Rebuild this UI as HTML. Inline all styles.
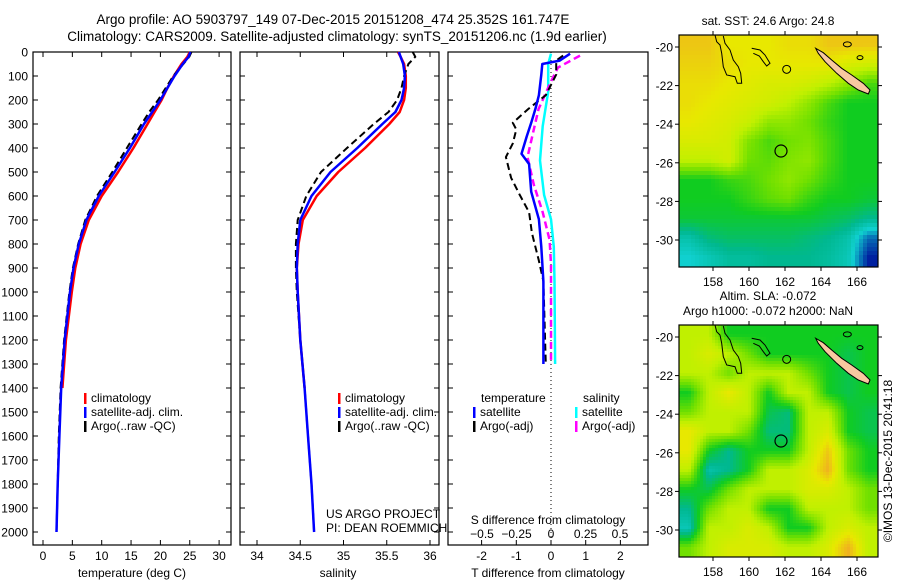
<!DOCTYPE html>
<html><head><meta charset="utf-8"><style>
body{margin:0;background:#fff}
svg{display:block;font-family:"Liberation Sans",sans-serif}
text{fill:#000}
</style></head><body>
<svg id="fig" width="900" height="580" viewBox="0 0 900 580" xmlns="http://www.w3.org/2000/svg">
<rect width="900" height="580" fill="#fff"/>
<text x="333" y="24" font-size="13.5" text-anchor="middle">Argo profile: AO 5903797_149 07-Dec-2015 20151208_474 25.352S 161.747E</text>
<text x="337" y="41" font-size="13.5" text-anchor="middle">Climatology: CARS2009. Satellite-adjusted climatology: synTS_20151206.nc (1.9d earlier)</text>
<g id="p1"></g>
<g id="p2"></g>
<g id="p3"></g>
<g id="m1"></g>
<g id="m2"></g>
<text transform="translate(892,461) rotate(-90)" font-size="12" text-anchor="middle">©IMOS 13-Dec-2015 20:41:18</text>
</svg>
<script>
// ---- profile data ----
const depthT = [0,20,50,100,150,200,250,300,400,500,600,700,800,900,1000,1200,1400,1600,1800,2000];
const tempClim = [25,24.6,23.6,22.3,21.2,20.2,19,17.8,15.4,12.8,10,7.8,6.4,5.5,4.9,3.9,3.3];
const tempSat  = [25.1,24.8,23.8,22.4,21.2,20.0,18.6,17.2,14.8,12.2,9.5,7.4,6.1,5.2,4.6,3.7,3.1,2.8,2.5,2.3];
const tempArgo = [25.3,24.9,23.9,22.2,20.9,19.6,18.1,16.8,14.3,11.8,9.2,7.2,6.0,5.1,4.5,3.6,3.0,2.7,2.5,2.3];
const salClim = [35.63,35.66,35.7,35.72,35.72,35.7,35.65,35.53,35.25,34.94,34.69,34.53,34.48,34.46,34.47,34.5,34.55];
const salSat  = [35.64,35.66,35.69,35.71,35.70,35.67,35.6,35.45,35.16,34.85,34.63,34.5,34.47,34.46,34.47,34.5,34.55,34.59,34.63,34.66];
const salArgo = [35.8,35.83,35.75,35.7,35.67,35.62,35.52,35.35,35.04,34.74,34.57,34.47,34.45,34.45,34.46,34.5,34.55,34.59,34.63,34.66];
// difference panel
const dDepthTS = [7,36,50,94,180,237,295,352,424,467,582,697,812,956,1300];
const dTSat    = [0.55,0.25,-0.25,-0.28,-0.35,-0.45,-0.57,-0.7,-0.85,-0.63,-0.57,-0.35,-0.28,-0.22,-0.22];
const dDepthTA = [15,36,94,180,237,295,323,381,438,524,596,668,754,870,956,1300];
const dTArgo   = [0.35,0.15,0.15,-0.15,-0.65,-1.1,-1.0,-1.1,-1.3,-1.15,-0.9,-0.63,-0.55,-0.35,-0.22,-0.15];
const dDepthSS = [7,50,166,309,452,596,697,812,956,1300];
const dSSat    = [0,-0.02,-0.02,-0.06,-0.08,-0.05,0,0.02,0.025,0.03];
const dDepthSA = [15,65,123,237,323,438,553,668,783,884,1300];
const dSArgo   = [0.21,0.05,0,-0.09,-0.125,-0.17,-0.125,-0.06,-0.01,0,0];
// map data (rows N->S, cols W->E)
const sstGrid = [
[3.8,3.8,3.5,3.5,3.5,3.6,3.6,3.8,3.8,3.8],
[3.7,3.7,3.6,3.5,3.5,3.5,3.5,3.5,3.3,3.2],
[3.6,3.6,3.5,3.4,3.3,3.3,3.2,3,2.7,2.3],
[3.6,3.5,3.4,3.3,3.2,3,2.7,2.3,2,2],
[3.5,3.4,3.3,3.1,2.7,2.7,2.5,2.2,2,2],
[3.3,3.3,3.2,2.6,2.3,2.5,2.6,2.3,2,2],
[3,3,3.2,2.5,2.4,2.6,2.7,2.3,2,2],
[2,2,2.2,2.3,2.5,2.7,2.5,2.2,2,2],
[2,2,2,2.2,2.4,2.5,2.2,2,2,1.9],
[1.9,1.9,1.9,1.9,1.9,1.9,1.9,1.8,1.7,1.5],
[1.3,1.6,1.7,1.7,1.7,1.7,1.6,1.5,1.3,0.6],
[1.0,1.2,1.4,1.4,1.5,1.5,1.5,1.4,1.2,0.3]];
const slaGrid = [
[3,3,2,2,2,2,2,2,2,2],
[3,3.3,3,2.5,2,2,2,2,1.8,2],
[3,3,2.5,3,3,3,2.5,2,1.8,2],
[2,3,3.5,3,2,3,3,2,1.8,2],
[2.5,3,3,3,1.8,1.6,3,3,2,1.8],
[3.5,3,3,2.5,1.6,1.6,3,3.3,2,1.8],
[3.5,2,1.5,2,2,2,3,3.8,2.5,2],
[3,1.3,1.5,2,3,3,3.3,4,2.5,2],
[2,1.8,2.5,3,3,3,3.3,3.3,3,2.5],
[1.5,2.5,3,3,2,2,3,3,3,2.5],
[1.2,3,3,3.3,3,2,2,3,3.3,3],
[2.5,3,3.3,3.3,3.3,3,3,3.3,4,3]];

const NS="http://www.w3.org/2000/svg";
function mk(parent,tag,attrs,txt){const e=document.createElementNS(NS,tag);for(const k in attrs)e.setAttribute(k,attrs[k]);if(txt!==undefined)e.textContent=txt;parent.appendChild(e);return e;}
const yD = d => 52 + d*0.24;

function frame(g,x0,x1,y0,y1,yLabels){
  const r=mk(g,'rect',{x:x0,y:y0,width:x1-x0,height:y1-y0,fill:'none',stroke:'#000','stroke-width':1.2});
  
  
  for(let d=0;d<=2000;d+=100){const y=yD(d);
    mk(g,'line',{x1:x0,x2:x0+5,y1:y,y2:y,stroke:'#000'});
    mk(g,'line',{x1:x1-5,x2:x1,y1:y,y2:y,stroke:'#000'});
    if(yLabels){const t=mk(g,'text',{x:x0-5,y:y+4.5,'font-size':12,'text-anchor':'end'},String(d));
      
      }
  }
}
function xticks(g,vals,fx,y0,y1,ly,fmt,bottomOnly){
  vals.forEach(v=>{const x=fx(v);
    mk(g,'line',{x1:x,x2:x,y1:y1-5,y2:y1,stroke:'#000'});
    if(!bottomOnly)mk(g,'line',{x1:x,x2:x,y1:y0,y2:y0+5,stroke:'#000'});
    const t=mk(g,'text',{x:x,y:ly,'font-size':12,'text-anchor':'middle'},fmt?fmt(v):String(v));
    
    
  });
}
function line(g,depths,vals,fx,color,w,dash,name){
  let d='';for(let i=0;i<vals.length;i++){d+=(i?'L':'M')+fx(vals[i]).toFixed(1)+','+yD(depths[i]).toFixed(1);}
  const p=mk(g,'path',{d:d,fill:'none',stroke:color,'stroke-width':w,'stroke-linejoin':'round'});
  if(dash)p.setAttribute('stroke-dasharray',dash);
  
  
}
function legend(g,x,y,items){items.forEach((it,i)=>{
  const r=mk(g,'rect',{x:x,y:y+i*14-9,width:2.5,height:11,fill:it[1]});
  
  
  const t=mk(g,'text',{x:x+7,y:y+i*14,'font-size':12},it[0]);
  
  
});}

// panel 1
const p1=document.getElementById('p1');
const fT=t=>43+t*5.87;
frame(p1,33,231,52,545,true);
xticks(p1,[0,5,10,15,20,25,30],fT,52,545,560);
mk(p1,'text',{x:132,y:577,'font-size':12,'text-anchor':'middle'},'temperature (deg C)');
line(p1,depthT,tempClim,fT,'#f00',2.5,null,'temp-climatology-line');
line(p1,depthT,tempArgo,fT,'#000',2,'7,4','temp-argo-line');
line(p1,depthT,tempSat,fT,'#00f',2.5,null,'temp-satellite-line');
legend(p1,84,402,[['climatology','#f00'],['satellite-adj. clim.','#00f'],['Argo(..raw -QC)','#000']]);

// panel 2
const p2=document.getElementById('p2');
const fS=s=>257+(s-34)*86.5;
frame(p2,240,439,52,545,false);
xticks(p2,[34,34.5,35,35.5,36],fS,52,545,560);
mk(p2,'text',{x:338,y:577,'font-size':12,'text-anchor':'middle'},'salinity');
line(p2,depthT,salClim,fS,'#f00',2.5,null,'sal-climatology-line');
line(p2,depthT,salArgo,fS,'#000',2,'7,4','sal-argo-line');
line(p2,depthT,salSat,fS,'#00f',2.5,null,'sal-satellite-line');
legend(p2,338,402,[['climatology','#f00'],['satellite-adj. clim.','#00f'],['Argo(..raw -QC)','#000']]);
mk(p2,'text',{x:326,y:518,'font-size':12},'US ARGO PROJECT');
mk(p2,'text',{x:326,y:532,'font-size':12},'PI: DEAN ROEMMICH');

// panel 3
const p3=document.getElementById('p3');
const fdT=t=>551+t*34.7, fdS=s=>551+s*138;
frame(p3,448,648,52,545,false);
mk(p3,'line',{x1:551,x2:551,y1:52,y2:545,stroke:'#000','stroke-dasharray':'1,3'});
xticks(p3,[-2,-1,0,1,2],fdT,52,545,560,null,true);
[-0.5,-0.25,0,0.25,0.5].forEach(v=>{const t=mk(p3,'text',{x:fdS(v),y:538,'font-size':12,'text-anchor':'middle'},String(v).replace('-','−'));
  
  });
mk(p3,'text',{x:548,y:524,'font-size':12,'text-anchor':'middle'},'S difference from climatology');
mk(p3,'text',{x:548,y:577,'font-size':12,'text-anchor':'middle'},'T difference from climatology');
line(p3,dDepthSS,dSSat,fdS,'#0ff',2.5,null,'s-diff-satellite-line');
line(p3,dDepthSA,dSArgo,fdS,'#f0f',2.5,'7,4','s-diff-argo-line');
line(p3,dDepthTA,dTArgo,fdT,'#000',2,'7,4','t-diff-argo-line');
line(p3,dDepthTS,dTSat,fdT,'#00f',2.5,null,'t-diff-satellite-line');
mk(p3,'text',{x:481,y:402,'font-size':12},'temperature');
mk(p3,'text',{x:583,y:402,'font-size':12},'salinity');
legend(p3,473,416,[['satellite','#00f'],['Argo(-adj)','#000']]);
legend(p3,575,416,[['satellite','#0ff'],['Argo(-adj)','#f0f']]);

// maps
const stops=[[0.3,[0,32,160]],[1,[16,208,208]],[1.5,[0,184,144]],[2,[16,204,32]],[2.5,[112,224,0]],[3,[192,240,0]],[3.5,[232,232,0]],[4,[240,176,32]]];
function col(v){if(v<=stops[0][0])return stops[0][1];for(let i=1;i<stops.length;i++){if(v<=stops[i][0]){const a=stops[i-1],b=stops[i],f=(v-a[0])/(b[0]-a[0]);return a[1].map((c,k)=>Math.round(c+(b[1][k]-c)*f));}}return stops[stops.length-1][1];}
function sample(grid,u,v){const R=grid.length,C=grid[0].length;const x=Math.min(Math.max(u*C-0.5,0),C-1),y=Math.min(Math.max(v*R-0.5,0),R-1);
  const i=Math.floor(y),j=Math.floor(x),i2=Math.min(i+1,R-1),j2=Math.min(j+1,C-1),fy=y-i,fx=x-j;
  return grid[i][j]*(1-fx)*(1-fy)+grid[i][j2]*fx*(1-fy)+grid[i2][j]*(1-fx)*fy+grid[i2][j2]*fx*fy;}
function map(id,grid,top,cell,title1,title2){
  const g=document.getElementById(id);const x0=679,x1=878,y0=top,y1=top+232;
  const bg=mk(g,'g',{});
  
  
  for(let y=y0;y<y1;y+=cell)for(let x=x0;x<x1;x+=cell){
    const c=col(sample(grid,(x-x0+cell/2)/(x1-x0),(y-y0+cell/2)/(y1-y0)));
    mk(bg,'rect',{x:x,y:y,width:Math.min(cell,x1-x)+0.3,height:Math.min(cell,y1-y)+0.3,fill:'rgb('+c.join(',')+')'});
  }
  const oy=top-35;
  const T=(pts)=>pts.map(p=>(650+p[0]/3).toFixed(1)+','+(30+p[1]/3+oy).toFixed(1)).join(' ');
  const nc=mk(g,'polygon',{points:T([[497,55],[520,68],[545,90],[575,115],[605,135],[640,160],[660,180],[655,192],[625,180],[595,160],[560,130],[525,95],[505,70]]),fill:'#f8c8a0',stroke:'#000','stroke-width':1});
  
  
  mk(g,'polyline',{points:T([[195,15],[200,35],[210,45],[215,70],[220,110],[230,135],[255,140],[262,160],[275,160],[272,130],[265,110],[250,90],[240,60],[225,40],[220,18]]),fill:'none',stroke:'#000','stroke-width':1});
  mk(g,'polyline',{points:T([[305,55],[330,60],[345,75],[360,100],[350,108],[340,95],[328,78],[310,70]]),fill:'none',stroke:'#000','stroke-width':1});
  mk(g,'ellipse',{cx:650+410/3,cy:30+118/3+oy,rx:4,ry:4,fill:'none',stroke:'#000'});
  mk(g,'ellipse',{cx:650+592/3,cy:30+43/3+oy,rx:4,ry:2.5,fill:'none',stroke:'#000'});
  mk(g,'ellipse',{cx:650+630/3,cy:30+83/3+oy,rx:3,ry:2,fill:'none',stroke:'#000'});
  const circ=mk(g,'circle',{cx:781,cy:151+oy,r:6,fill:'none',stroke:'#000','stroke-width':1.2});
  
  
  const fr=mk(g,'rect',{x:x0,y:y0,width:x1-x0,height:y1-y0,fill:'none',stroke:'#000','stroke-width':1.2});
  
  
  [158,160,162,164,166].forEach(lon=>{const x=713+(lon-158)*18;
    mk(g,'line',{x1:x,x2:x,y1:y0,y2:y0-4,stroke:'#000'});mk(g,'line',{x1:x,x2:x,y1:y1,y2:y1+4,stroke:'#000'});
    const t=mk(g,'text',{x:x,y:y1+19,'font-size':12,'text-anchor':'middle'},String(lon));
    
    });
  [-20,-22,-24,-26,-28,-30].forEach(lat=>{const y=top+12+(-20-lat)*19.3;
    mk(g,'line',{x1:x0,x2:x0-4,y1:y,y2:y,stroke:'#000'});mk(g,'line',{x1:x1,x2:x1+4,y1:y,y2:y,stroke:'#000'});
    const t=mk(g,'text',{x:673,y:y+4.5,'font-size':12,'text-anchor':'end'},String(lat));
    
    });
  const a=mk(g,'text',{x:768,y:top-(title2?25:10),'font-size':12,'text-anchor':'middle'},title1);
  
  
  if(title2){const b=mk(g,'text',{x:768,y:top-10,'font-size':12,'text-anchor':'middle'},title2);
    
    }
}
map('m1',sstGrid,35,4,'sat. SST: 24.6  Argo: 24.8');
map('m2',slaGrid,325,3,'Altim. SLA: -0.072','Argo h1000: -0.072 h2000: NaN');
</script>
</body></html>
